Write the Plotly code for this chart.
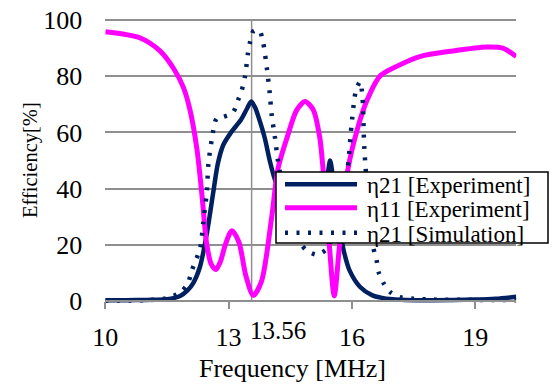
import plotly.graph_objects as go

# Measured transmission / reflection efficiencies versus frequency
freq_eta21_exp = [10.0, 10.5, 11.0, 11.5, 11.82, 12.0, 12.14, 12.3, 12.47, 12.63, 12.74, 12.87,
                  13.06, 13.3, 13.45, 13.55, 13.64, 13.76, 13.88, 14.0, 14.13, 14.3, 14.5, 14.7,
                  14.9, 15.1, 15.25, 15.35, 15.42, 15.47, 15.53, 15.6, 15.7, 15.8, 15.94, 16.2,
                  16.5, 16.7, 17.0, 17.3, 18.0, 19.0, 19.5, 20.0]
eta21_exp = [0.3, 0.3, 0.4, 0.6, 1.8, 3.8, 6.4, 12, 24, 39, 49, 55.5,
             60, 64.5, 68.5, 71, 69, 64, 58, 50, 43, 36, 31, 28,
             27, 29, 33, 39, 46, 50, 45, 35, 26, 18, 11, 5,
             2, 1.2, 0.6, 0.4, 0.3, 0.5, 0.8, 1.5]

freq_eta11_exp = [10.0, 10.85, 11.33, 11.65, 11.9, 12.06, 12.23, 12.35, 12.47, 12.58, 12.69,
                  12.8, 12.92, 13.08, 13.25, 13.42, 13.6, 13.8, 14.05, 14.2, 14.42, 14.66,
                  14.86, 15.06, 15.22, 15.3, 15.45, 15.57, 15.7, 15.9, 16.13, 16.37, 16.68,
                  17.09, 17.65, 18.46, 19.28, 19.67, 20.0]
eta11_exp = [95.8, 93.6, 89, 83, 76, 68, 54, 38, 20, 13, 11.2,
             14, 20, 25, 21, 9, 2, 7, 30, 47, 58, 68,
             71, 68, 58, 46.6, 20, 1.8, 20, 46.6, 61, 71.5, 80,
             83.5, 87, 89, 90.4, 90, 87]

# Simulated transmission efficiency
freq_eta21_sim = [10.0, 11.0, 11.5, 11.82, 12.0, 12.11, 12.31, 12.38, 12.47, 12.51, 12.59, 12.71,
                  12.87, 13.1, 13.23, 13.32, 13.4, 13.47, 13.52, 13.6, 13.68, 13.76, 13.84,
                  13.93, 14.0, 14.05, 14.13, 14.2, 14.3, 14.45, 14.6, 14.75, 14.9, 15.15, 15.39,
                  15.5, 15.65, 15.8, 15.9, 16.0, 16.1, 16.2, 16.26, 16.3, 16.4, 16.52, 16.6,
                  16.65, 16.77, 16.93, 17.17, 17.5, 18.0, 19.0, 20.0]
eta21_sim = [0.2, 0.3, 1, 3, 6, 11, 19, 27.6, 39, 49, 57.3, 65,
             65.5, 67, 71.5, 75, 80, 88, 92, 96, 96.5, 96, 92,
             83, 74, 66, 58, 50, 42, 32, 25, 20.5, 18, 16.5, 18.5,
             22, 30, 40, 47.7, 64, 75, 78, 72, 55, 35, 19, 14.6,
             10.3, 6.4, 3.2, 1.4, 0.8, 0.5, 0.4, 0.3]

x_ticks = [10, 13, 16, 19]
y_ticks = [0, 20, 40, 60, 80, 100]
marker_freq = 13.56

legend_labels = ["η21 [Experiment]", "η11 [Experiment]", "η21 [Simulation]"]

NAVY = "#002060"
MAGENTA = "#FF00FF"
GRID = "#8f8f8f"
SERIF = "Liberation Serif"
DOTS = "3px,8.5px"

W, H = 553, 385


def px_x(p):
    return p / W


def px_y(p):
    return 1 - p / H


fig = go.Figure()
fig.add_trace(go.Scatter(x=freq_eta21_exp, y=eta21_exp, mode="lines", name=legend_labels[0],
                         line=dict(color=NAVY, width=4.5, shape="spline", smoothing=0.8)))
fig.add_trace(go.Scatter(x=freq_eta11_exp, y=eta11_exp, mode="lines", name=legend_labels[1],
                         line=dict(color=MAGENTA, width=5, shape="spline", smoothing=0.8)))
fig.add_trace(go.Scatter(x=freq_eta21_sim, y=eta21_sim, mode="lines", name=legend_labels[2],
                         line=dict(color=NAVY, width=4.5, dash=DOTS,
                                   shape="spline", smoothing=0.8)))

y0_px, y100_px = 301, 20
ppu = (y0_px - y100_px) / 100
y_lo, y_hi = -1.5, 101
dom_bottom = px_y(y0_px - y_lo * ppu)
dom_top = px_y(y100_px - (y_hi - 100) * ppu)

fig.update_xaxes(
    range=[10, 20], domain=[px_x(105.3), px_x(516.3)],
    anchor="free", position=px_y(y0_px),
    showline=True, linecolor=GRID, linewidth=1.5,
    ticks="outside", ticklen=7, tickwidth=1.5, tickcolor=GRID,
    tickvals=x_ticks, ticktext=[str(v) for v in x_ticks],
    tickfont=dict(family=SERIF, size=26, color="black"),
    ticklabelstandoff=6,
    showgrid=False, zeroline=False,
)
fig.update_yaxes(
    range=[y_lo, y_hi], domain=[dom_bottom, dom_top],
    showline=False, ticks="",
    tickvals=y_ticks, ticktext=[str(v) for v in y_ticks],
    tickfont=dict(family=SERIF, size=26, color="black"),
    ticklabelstandoff=22,
    showgrid=True, gridcolor=GRID, gridwidth=1.5, zeroline=False,
)

shapes = [
    # reference frequency marker
    dict(type="line", xref="x", yref="y", x0=marker_freq, x1=marker_freq, y0=0, y1=100,
         line=dict(color=GRID, width=1.5), layer="below"),
    # legend frame
    dict(type="rect", xref="paper", yref="paper",
         x0=px_x(276), x1=px_x(548), y0=px_y(243), y1=px_y(172),
         line=dict(color="black", width=1.5), fillcolor="white", layer="above"),
]
legend_rows = [184.3, 207.7, 232.7]
legend_text_rows = [185.3, 209.2, 234.2]
legend_styles = [dict(color=NAVY, width=4.5), dict(color=MAGENTA, width=5),
                 dict(color=NAVY, width=4.5, dash=DOTS)]
for ry, st in zip(legend_rows, legend_styles):
    shapes.append(dict(type="line", xref="paper", yref="paper",
                       x0=px_x(285), x1=px_x(357), y0=px_y(ry), y1=px_y(ry),
                       line=st, layer="above"))

annotations = [
    dict(text="13.56", x=marker_freq, xref="x", xshift=-4, y=px_y(330), yref="paper",
         xanchor="left", yanchor="middle", showarrow=False,
         font=dict(family=SERIF, size=25, color="black")),
    dict(text="Frequency [MHz]", x=px_x(292.5), xref="paper", y=px_y(368), yref="paper",
         xanchor="center", yanchor="middle", showarrow=False,
         font=dict(family=SERIF, size=26, color="black")),
    dict(text="Efficiency[%]", x=px_x(30), xref="paper", y=px_y(160), yref="paper",
         xanchor="center", yanchor="middle", showarrow=False, textangle=-90,
         font=dict(family=SERIF, size=20.5, color="black")),
]
for ty, lab in zip(legend_text_rows, legend_labels):
    annotations.append(dict(text=lab, x=px_x(365), xref="paper", y=px_y(ty), yref="paper",
                            xanchor="left", yanchor="middle", showarrow=False,
                            font=dict(family=SERIF, size=23, color="black")))

fig.update_layout(
    width=W, height=H,
    margin=dict(l=0, r=0, t=0, b=0, autoexpand=False),
    paper_bgcolor="white", plot_bgcolor="white",
    showlegend=False,
    shapes=shapes, annotations=annotations,
    font=dict(family=SERIF),
)

fig.write_html("out.html")
